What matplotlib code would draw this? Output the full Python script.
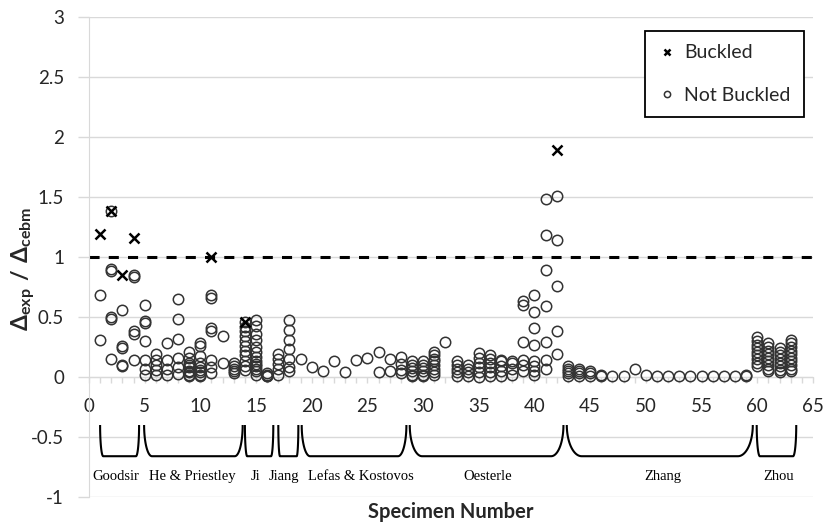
import numpy as np
import matplotlib.pyplot as plt

plt.rcParams['font.family'] = ['Lato', 'DejaVu Sans']
plt.rcParams['mathtext.fontset'] = 'custom'
plt.rcParams['mathtext.rm'] = 'Lato'
plt.rcParams['mathtext.bf'] = 'Lato:bold'

# not buckled specimens, grouped by study (specimen number, ratio)
goodsir_x = [1, 1, 2, 2, 2, 2, 2, 3, 3, 3, 3, 3, 4, 4, 4, 4, 4]
goodsir_y = [0.68, 0.31, 0.90, 0.88, 0.50, 0.48, 0.15, 0.56, 0.26, 0.24, 0.10, 0.09,
             0.85, 0.83, 0.38, 0.36, 0.14]

he_x = [5, 5, 5, 5, 5, 5, 5, 6, 6, 6, 6, 6, 7, 7, 7, 7, 8, 8, 8, 8, 8, 8,
        9, 9, 9, 9, 9, 9, 9, 9, 9, 10, 10, 10, 10, 10, 10, 10, 10, 10,
        11, 11, 11, 11, 11, 11, 11, 12, 12, 13, 13, 13, 13, 13]
he_y = [0.60, 0.47, 0.45, 0.30, 0.14, 0.07, 0.02, 0.19, 0.14, 0.10, 0.06, 0.02,
        0.28, 0.14, 0.07, 0.02, 0.65, 0.48, 0.32, 0.155, 0.08, 0.025,
        0.21, 0.155, 0.12, 0.10, 0.085, 0.05, 0.04, 0.02, 0.01,
        0.28, 0.26, 0.175, 0.12, 0.08, 0.06, 0.04, 0.02, 0.01,
        0.68, 0.66, 0.41, 0.38, 0.14, 0.08, 0.03, 0.34, 0.12,
        0.12, 0.09, 0.07, 0.05, 0.03]

ji_x = [14] * 11 + [15] * 13 + [16] * 4
ji_y = [0.46, 0.42, 0.38, 0.34, 0.30, 0.26, 0.22, 0.18, 0.13, 0.09, 0.06,
        0.475, 0.425, 0.36, 0.31, 0.25, 0.21, 0.17, 0.13, 0.11, 0.09, 0.07, 0.05, 0.02,
        0.03, 0.02, 0.01, 0.005]

jiang_x = [17] * 5 + [18] * 7
jiang_y = [0.19, 0.15, 0.11, 0.07, 0.02,
           0.475, 0.39, 0.31, 0.23, 0.15, 0.08, 0.05]

lefas_x = [19, 20, 21, 22, 23, 24, 25, 26, 26, 27, 27, 28, 28, 28, 28]
lefas_y = [0.15, 0.08, 0.05, 0.13, 0.04, 0.14, 0.155, 0.205, 0.04, 0.15, 0.05,
           0.17, 0.11, 0.06, 0.03]

oesterle_x = ([29] * 6 + [30] * 6 + [31] * 8 + [32] + [33] * 5 + [34] * 4 + [35] * 6
              + [36] * 6 + [37] * 5 + [38] * 4 + [39] * 6 + [40] * 8 + [41] * 7 + [42] * 5)
oesterle_y = [0.13, 0.10, 0.075, 0.05, 0.02, 0.005,
              0.13, 0.10, 0.075, 0.05, 0.02, 0.005,
              0.21, 0.18, 0.15, 0.13, 0.10, 0.07, 0.04, 0.02,
              0.29,
              0.13, 0.10, 0.07, 0.04, 0.01,
              0.10, 0.07, 0.04, 0.01,
              0.20, 0.16, 0.12, 0.08, 0.04, 0.0,
              0.18, 0.15, 0.12, 0.08, 0.04, 0.01,
              0.14, 0.13, 0.09, 0.05, 0.01,
              0.13, 0.12, 0.07, 0.02,
              0.63, 0.60, 0.29, 0.14, 0.10, 0.05,
              0.68, 0.54, 0.41, 0.27, 0.135, 0.09, 0.05, 0.02,
              1.48, 1.18, 0.89, 0.59, 0.29, 0.14, 0.07,
              1.51, 1.14, 0.76, 0.38, 0.19]

zhang_x = ([43] * 5 + [44] * 4 + [45] * 3 + [46] * 2 + [47, 48, 49, 50, 51, 52, 53, 54,
                                                    55, 56, 57, 58] + [59] * 2)
zhang_y = [0.09, 0.07, 0.05, 0.03, 0.01, 0.07, 0.05, 0.03, 0.01, 0.05, 0.03, 0.01,
           0.02, 0.01, 0.01, 0.01, 0.07, 0.02, 0.01, 0.01, 0.01, 0.01, 0.01, 0.01,
           0.01, 0.01, 0.02, 0.01]

zhou_x = [60] * 9 + [61] * 9 + [62] * 8 + [63] * 10
zhou_y = [0.33, 0.30, 0.27, 0.24, 0.21, 0.18, 0.15, 0.12, 0.09,
          0.28, 0.25, 0.22, 0.19, 0.16, 0.13, 0.10, 0.07, 0.05,
          0.24, 0.21, 0.18, 0.15, 0.12, 0.09, 0.06, 0.04,
          0.31, 0.28, 0.25, 0.22, 0.19, 0.16, 0.13, 0.10, 0.07, 0.05]

# buckled specimens
buckled_x = [1, 2, 3, 4, 11, 14, 42]
buckled_y = [1.19, 1.38, 0.85, 1.16, 1.0, 0.46, 1.89]
# circle drawn under the buckled mark at specimen 2
extra_x = [2]
extra_y = [1.38]

# study groups along the x axis
studies = ['Goodsir', 'He & Priestley', 'Ji', 'Jiang', 'Lefas & Kostovos',
           'Oesterle', 'Zhang', 'Zhou']
study_start = [1.0, 4.95, 14.0, 17.0, 19.1, 28.8, 42.9, 59.95]
study_end = [4.5, 13.8, 16.55, 18.8, 28.5, 42.6, 59.6, 63.5]
study_label_x = [2.4, 9.3, 15.0, 17.5, 24.4, 35.8, 51.5, 61.9]

nb_x = (goodsir_x + he_x + ji_x + jiang_x + lefas_x + oesterle_x + zhang_x
        + zhou_x + extra_x)
nb_y = (goodsir_y + he_y + ji_y + jiang_y + lefas_y + oesterle_y + zhang_y
        + zhou_y + extra_y)

grid_color = '#d9d9d9'
text_color = '#262626'

fig = plt.figure(figsize=(8.26, 5.27), dpi=100)
ax = fig.add_axes([0.1077, 0.0569, 0.8765, 0.9108])

ax.set_xlim(0, 65)
ax.set_ylim(-1, 3)
ax.set_yticks(np.arange(-1, 3.01, 0.5))
ax.set_yticklabels(['-1', '-0.5', '0', '0.5', '1', '1.5', '2', '2.5', '3'])
ax.set_xticks(range(0, 66, 5))
ax.set_xticks(range(0, 66), minor=True)
ax.grid(axis='y', color=grid_color, lw=1)
ax.set_axisbelow(True)

for s in ['top', 'right']:
    ax.spines[s].set_visible(False)
ax.spines['bottom'].set_position(('data', 0))
ax.spines['bottom'].set_color(grid_color)
ax.spines['left'].set_color(grid_color)
ax.tick_params(axis='x', which='both', direction='out', length=4, width=1,
               colors=grid_color, labelcolor=text_color, labelsize=13.5, pad=11)
ax.tick_params(axis='y', direction='out', length=8, width=1,
               colors=grid_color, labelcolor=text_color, labelsize=13.5, pad=10)

# reference line
ax.axhline(1, color='black', lw=2.2, ls=(0, (3.3, 3)), zorder=2)

ax.plot(nb_x, nb_y, 'o', ls='none', mfc='none', mec='#333333', ms=7.5, mew=1.1,
        label='Not Buckled', zorder=3)
ax.plot(buckled_x, buckled_y, 'x', ls='none', color='black', ms=6.5, mew=1.8,
        label='Buckled', zorder=4)

# braces under each study
top, bot = -0.4, -0.66
t = np.linspace(0, np.pi / 2, 30)
for x0, x1 in zip(study_start, study_end):
    r = max(0.15, 0.08 * (x1 - x0))
    lx = x0 + r * (1 - np.cos(t))
    ly = top - (top - bot) * np.sin(t)
    rx = x1 - r * (1 - np.cos(t[::-1]))
    ry = top - (top - bot) * np.sin(t[::-1])
    ax.plot(np.concatenate([lx, rx]), np.concatenate([ly, ry]), color='black',
            lw=1.5, solid_capstyle='butt', clip_on=False)

for name, xp in zip(studies, study_label_x):
    ax.text(xp, -0.83, name, ha='center', va='center', family='Liberation Serif',
            fontsize=10.5, color='black')

ax.set_xlabel('Specimen Number', fontweight='bold', fontsize=14.5, color=text_color)
ax.xaxis.set_label_coords(0.5, -0.01)
ax.set_ylabel(r'$\mathbf{\Delta_{exp}\ /\ \Delta_{cebm}}$', fontsize=16.5, color=text_color)
ax.yaxis.set_label_coords(-0.072, 0.475)

h, l = ax.get_legend_handles_labels()
leg = ax.legend(h[::-1], l[::-1], loc='upper right', bbox_to_anchor=(0.9734, 0.9417),
                bbox_transform=fig.transFigure, borderaxespad=0, fontsize=14,
                markerscale=0.6, handlelength=0.8, handletextpad=0.5,
                labelspacing=1.3, borderpad=0.7, fancybox=False, framealpha=1,
                edgecolor='black')
leg.get_frame().set_linewidth(1.3)
for txt in leg.get_texts():
    txt.set_color(text_color)

fig.savefig('out.png', dpi=100)
